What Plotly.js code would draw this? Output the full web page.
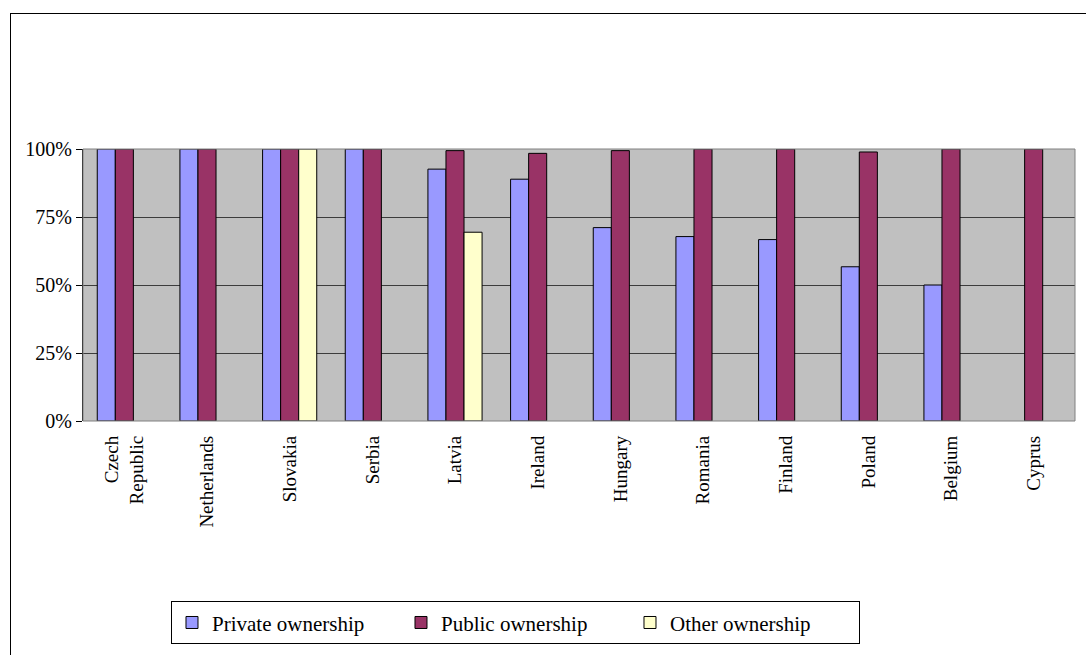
<!DOCTYPE html>
<html>
<head>
<meta charset="utf-8">
<script src="https://cdn.plot.ly/plotly-3.0.1.min.js"></script>
<style>
  html, body { margin: 0; padding: 0; background: #fff; }
  #frame { position: absolute; left: 10px; top: 13px; width: 1090px; height: 660px; border: 1px solid #000; box-sizing: border-box; pointer-events: none; z-index: 5; }
  #chart { position: absolute; left: 0; top: 0; width: 1086px; height: 655px; }
</style>
</head>
<body>
<div id="chart"></div>
<div id="frame"></div>
<script>
const categories = ["Czech<br>Republic", "Netherlands", "Slovakia", "Serbia", "Latvia", "Ireland", "Hungary", "Romania", "Finland", "Poland", "Belgium", "Cyprus"];
const privateOwnership = [100, 100, 100, 100, 92.6, 88.9, 71.1, 67.8, 66.7, 56.7, 50, null];
const publicOwnership  = [100, 100, 100, 100, 99.4, 98.4, 99.4, 100, 100, 98.9, 100, 100];
const otherOwnership   = [null, null, 100, null, 69.4, null, null, null, null, null, null, null];
const yTickVals = [0, 25, 50, 75, 100];
const yTickText = ["0%", "25%", "50%", "75%", "100%"];

const serif = "Liberation Serif, Times New Roman, serif";
const mk = (name, y, color) => ({
  type: "bar", name: name, x: categories, y: y,
  marker: { color: color, line: { color: "#000", width: 1 } },
  hoverinfo: "skip"
});

const data = [
  mk("Private ownership", privateOwnership, "#9999FF"),
  mk("Public ownership", publicOwnership, "#993366"),
  mk("Other ownership", otherOwnership, "#FFFFCC")
];

const layout = {
  width: 1086, height: 655,
  margin: { l: 83, r: 11, t: 149, b: 234, pad: 0 },
  paper_bgcolor: "#fff",
  plot_bgcolor: "#C0C0C0",
  barmode: "group",
  bargap: 0.345,
  bargroupgap: 0,
  font: { family: serif, color: "#000", size: 16 },
  xaxis: {
    type: "category",
    tickangle: -90,
    tickfont: { family: serif, size: 19, color: "#000" },
    ticklabelstandoff: 10,
    showgrid: false, showline: false, ticks: "", zeroline: false,
    fixedrange: true
  },
  yaxis: {
    range: [0, 100],
    tickvals: yTickVals, ticktext: yTickText,
    tickfont: { family: serif, size: 20, color: "#000" },
    showgrid: true, gridcolor: "#3c3c3c", gridwidth: 1,
    showline: true, linecolor: "#000", linewidth: 1,
    ticks: "outside", ticklen: 6, tickcolor: "#000",
    zeroline: false, fixedrange: true
  },
  shapes: [{
    type: "rect", xref: "paper", yref: "paper", x0: 0, x1: 1, y0: 0, y1: 1,
    line: { color: "#808080", width: 1 }, layer: "above"
  }],
  showlegend: true,
  legend: {
    orientation: "h",
    x: 0.0887, xanchor: "left",
    y: -0.663, yanchor: "top",
    bordercolor: "#000", borderwidth: 1, bgcolor: "#fff",
    font: { family: serif, size: 21, color: "#000" },
    itemwidth: 30, tracegroupgap: 0,
    entrywidth: 184
  }
};

Plotly.newPlot("chart", data, layout, { staticPlot: true, displayModeBar: false });
</script>
</body>
</html>
